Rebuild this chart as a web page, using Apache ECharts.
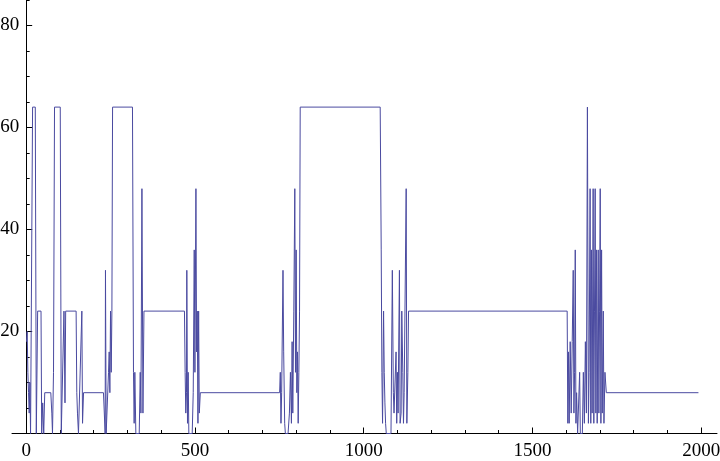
<!DOCTYPE html>
<html>
<head>
<meta charset="utf-8">
<script src="https://cdn.jsdelivr.net/npm/echarts@6/dist/echarts.min.js"></script>
<style>html,body{margin:0;padding:0;background:#fff;}#c{width:720px;height:461px;}</style>
</head>
<body>
<div id="c"></div>
<script>
// Data (x = sample index, y = value)
const xs = [1,3,5,7,9,11,13,19,27,30,34,44,46,49,52,55,73,76,78,81,84,101,104,109,112,115,117,148,150,152,155,160,165,167,170,229,234,235,237,240,244,246,248,250,252,254,256,315,318,320,322,325,335,338,340,343,346,349,469,471,473,475,476,478,480,482,492,495,498,500,503,505,507,509,511,513,516,751,753,755,757,761,763,766,768,776,780,783,786,788,790,793,796,798,800,802,804,806,808,810,812,1049,1052,1054,1056,1059,1061,1063,1065,1067,1081,1085,1088,1090,1096,1098,1100,1102,1106,1108,1111,1113,1116,1118,1120,1126,1128,1131,1133,1603,1605,1607,1609,1612,1615,1618,1621,1623,1625,1627,1629,1631,1634,1637,1640,1642,1648,1651,1654,1657,1660,1663,1666,1668,1671,1673,1675,1677,1680,1682,1684,1686,1688,1690,1692,1695,1697,1699,1701,1703,1705,1707,1710,1712,1715,1719,1992];
const ys = [18,20,12,8,4,10,0,64,64,0,24,24,0,6,0,8,8,4,0,12,64,64,0,0,24,6,24,24,8,4,0,0,24,2,8,8,0,32,0,0,12,16,8,24,12,24,64,64,12,2,12,0,0,12,4,48,4,24,24,12,4,8,32,2,12,0,0,8,36,12,48,16,24,2,24,4,8,8,12,2,8,32,16,2,0,0,4,12,2,18,4,24,48,12,36,8,16,2,12,24,64,64,36,12,2,24,12,6,2,0,0,32,8,4,16,2,12,4,32,2,4,24,12,2,8,48,2,12,24,24,2,16,2,18,4,18,32,4,12,36,2,8,0,0,12,0,0,12,2,18,4,64,2,12,48,2,36,4,48,2,24,48,4,36,2,36,4,24,48,2,36,4,24,2,12,8,8];
const xMajorTicks = [0,500,1000,1500,2000];
const xMinorTicks = [0,100,200,300,400,500,600,700,800,900,1000,1100,1200,1300,1400,1500,1600,1700,1800,1900,2000];
const yMajorTicks = [20,40,60,80];
const yMinorTicks = [5,10,15,20,25,30,35,40,45,50,55,60,65,70,75,80,85];

const points = xs.map((x, i) => [x, ys[i]]);
const font = {fontFamily: 'Liberation Serif', fontSize: 19, color: '#000', formatter: v => String(v)};
const blackLine = {color: '#000', width: 1};

// x range: -42 .. 2047 over px 12..717  => x = 0 sits at px 12 + 42*705/2089
const gridLeft = 12, gridRight = 3, xMin = -42, xMax = 2047;
const zeroPx = gridLeft + (0 - xMin) * (720 - gridLeft - gridRight) / (xMax - xMin);

const chart = echarts.init(document.getElementById('c'), null, {renderer: 'canvas'});
chart.setOption({
  animation: false,
  backgroundColor: '#fff',
  grid: [
    {left: gridLeft, right: gridRight, top: 0, bottom: 27.5, containLabel: false, outerBoundsMode: 'none'},
    {left: zeroPx, right: gridRight, top: 0, bottom: 27.5, containLabel: false, outerBoundsMode: 'none'}
  ],
  xAxis: [
    {type: 'value', gridIndex: 0, min: xMin, max: xMax, position: 'bottom', axisLine: {show: true, onZero: false, lineStyle: blackLine}, splitLine: {show: false},
     axisTick: {show: true, inside: true, length: 6, customValues: xMajorTicks, lineStyle: blackLine},
     axisLabel: {show: true, customValues: xMajorTicks, margin: 8, ...font}},
    {type: 'value', gridIndex: 0, min: xMin, max: xMax, position: 'bottom', axisLine: {show: false, onZero: false}, splitLine: {show: false},
     axisTick: {show: true, inside: true, length: 3.5, customValues: xMinorTicks, lineStyle: blackLine},
     axisLabel: {show: false}},
    {type: 'value', gridIndex: 1, min: 0, max: 1, show: false}
  ],
  yAxis: [
    {type: 'value', gridIndex: 0, min: 0, max: 85, show: false},
    {type: 'value', gridIndex: 1, min: 0, max: 85, position: 'left', axisLine: {show: true, onZero: false, lineStyle: blackLine}, splitLine: {show: false},
     axisTick: {show: true, inside: true, length: 6, customValues: yMajorTicks, lineStyle: blackLine},
     axisLabel: {show: true, customValues: yMajorTicks, margin: 7, ...font}},
    {type: 'value', gridIndex: 1, min: 0, max: 85, position: 'left', axisLine: {show: false, onZero: false}, splitLine: {show: false},
     axisTick: {show: true, inside: true, length: 3.5, customValues: yMinorTicks, lineStyle: blackLine},
     axisLabel: {show: false}}
  ],
  series: [{
    type: 'line', data: points, xAxisIndex: 0, yAxisIndex: 0,
    showSymbol: false, symbol: 'none',
    lineStyle: {color: '#4a4aa0', width: 1},
    clip: true
  }]
});
</script>
</body>
</html>
